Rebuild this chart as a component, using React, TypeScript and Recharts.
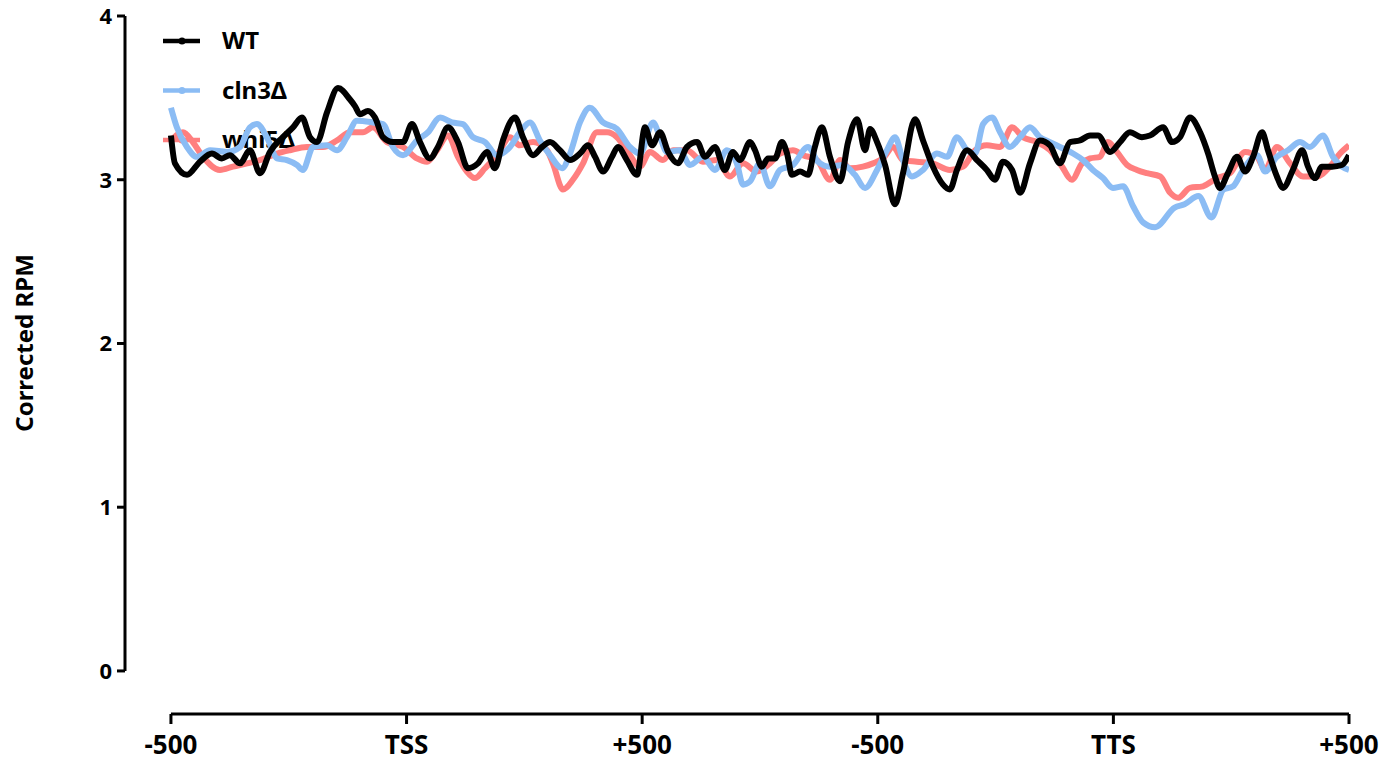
import { Label, Line, LineChart, ReferenceLine, XAxis, YAxis } from 'recharts';

// positions: 0 = -500, 100 = TSS, 200 = +500, 300 = -500, 400 = TTS, 500 = +500
const tickPositions = [0, 100, 200, 300, 400, 500];
const tickLabels = ['-500', 'TSS', '+500', '-500', 'TTS', '+500'];
const yTicks = [0, 1, 2, 3, 4];

const wt: [number, number][] = [
  [0, 3.27], [1.7, 3.1], [6.8, 3.03], [12.3, 3.11], [17.4, 3.16], [21.6, 3.13], [25, 3.15], [29.3, 3.1],
  [33.5, 3.18], [37.8, 3.04], [42, 3.17], [47.5, 3.26], [51.8, 3.32], [55.6, 3.38], [59, 3.26], [62, 3.23],
  [66.2, 3.41], [70.9, 3.56], [76, 3.49], [78.1, 3.45], [80.2, 3.4], [83.6, 3.42], [86.6, 3.38], [90, 3.26],
  [94.2, 3.23], [98.5, 3.23], [102.3, 3.34], [105.7, 3.23], [109.9, 3.13], [113.3, 3.2], [117.6, 3.32],
  [121.8, 3.23], [126.1, 3.07], [130.3, 3.1], [134.1, 3.17], [137.5, 3.07], [140.9, 3.24], [146, 3.38],
  [149.4, 3.26], [153.7, 3.15], [157.5, 3.2], [160.9, 3.23], [165.1, 3.18], [169.4, 3.12], [173.6, 3.16],
  [177, 3.21], [180, 3.14], [183.4, 3.05], [187.2, 3.14], [189.7, 3.2], [193.5, 3.12], [197.8, 3.03],
  [201.2, 3.32], [204.2, 3.21], [207.6, 3.29], [211, 3.17], [215.2, 3.1], [219, 3.2], [223.3, 3.23],
  [226.7, 3.14], [230.9, 3.2], [235.1, 3.06], [238.5, 3.17], [241.5, 3.12], [245.8, 3.23], [247.9, 3.18],
  [250.8, 3.08], [253.4, 3.13], [256.4, 3.13], [259.3, 3.23], [261.5, 3.16], [263.6, 3.03], [267, 3.05],
  [270.4, 3.03], [273.3, 3.2], [276.3, 3.32], [279.7, 3.14], [284, 2.99], [287.4, 3.23], [291.2, 3.37],
  [294.6, 3.18], [296.7, 3.31], [299.7, 3.23], [303.1, 3.09], [307.3, 2.85], [310.7, 3.04], [315.8, 3.37],
  [319.2, 3.24], [323.4, 3.08], [327.7, 2.97], [330.6, 2.94], [333.6, 3.06], [337.9, 3.18], [342.1, 3.12],
  [346.3, 3.06], [349.7, 3.0], [353.1, 3.11], [357, 3.06], [360.4, 2.92], [364.6, 3.1], [368.8, 3.24],
  [373.1, 3.21], [377.3, 3.1], [381.6, 3.23], [385.8, 3.24], [390.1, 3.27], [393.5, 3.27], [398.6, 3.17],
  [402.8, 3.23], [407, 3.29], [412.1, 3.26], [415.5, 3.27], [421.1, 3.32], [424.9, 3.23], [428.3, 3.26],
  [432.5, 3.38], [436.8, 3.29], [440.2, 3.16], [443.1, 3.02], [445.2, 2.95], [448.6, 3.04], [452.5, 3.14],
  [455.9, 3.05], [459.3, 3.14], [463.1, 3.29], [465.6, 3.18], [469.4, 3.02], [472, 2.95], [476.2, 3.06],
  [480.1, 3.18], [482.6, 3.08], [485.6, 3.01], [488.5, 3.08], [492.8, 3.08], [497, 3.09], [500, 3.15],
];

const cln3: [number, number][] = [
  [0, 3.44], [2.5, 3.32], [6.8, 3.2], [11, 3.14], [16.6, 3.18], [23.8, 3.17], [29.3, 3.2], [33.5, 3.32],
  [36.5, 3.34], [40.7, 3.26], [45, 3.13], [49.2, 3.12], [53.5, 3.09], [56, 3.06], [60.3, 3.2], [66.2, 3.21],
  [70.5, 3.18], [74.7, 3.26], [78.9, 3.36], [85.7, 3.35], [90, 3.34], [94.2, 3.2], [98.5, 3.15],
  [104.4, 3.24], [109.1, 3.29], [114.2, 3.38], [119.3, 3.35], [123.9, 3.34], [128.2, 3.26], [133.3, 3.23],
  [138.4, 3.15], [143.9, 3.2], [148.1, 3.29], [152.4, 3.35], [156.6, 3.24], [160.9, 3.15], [166, 3.07],
  [169.4, 3.16], [173.6, 3.35], [177.8, 3.44], [183.4, 3.35], [189.3, 3.31], [194.8, 3.2], [199.1, 3.16],
  [204.6, 3.35], [207.6, 3.26], [210.5, 3.17], [216, 3.18], [220.3, 3.09], [225.8, 3.14], [230.9, 3.06],
  [236, 3.18], [240.2, 3.1], [242.8, 2.97], [245.8, 2.99], [250, 3.1], [254.2, 2.96], [258.5, 3.06],
  [264, 3.09], [270.4, 3.2], [274.6, 3.11], [279.7, 3.08], [285.2, 3.09], [290.3, 3.03], [294.6, 2.95],
  [299.7, 3.06], [303.9, 3.18], [307.3, 3.26], [310.7, 3.12], [314.5, 3.02], [319.2, 3.06], [325.1, 3.16],
  [329.4, 3.14], [333.6, 3.26], [337.9, 3.18], [341.3, 3.16], [344.7, 3.34], [348.5, 3.38], [351.9, 3.29],
  [356.1, 3.2], [360.4, 3.26], [364.6, 3.32], [368.8, 3.26], [373.1, 3.23], [377.3, 3.2], [382.9, 3.16],
  [387.1, 3.12], [391.3, 3.06], [395.6, 3.01], [399.8, 2.95], [404.1, 2.96], [408.3, 2.84], [412.6, 2.74],
  [417.7, 2.71], [426, 2.83], [430.2, 2.85], [436.1, 2.9], [441.6, 2.77], [446.7, 2.94], [450.8, 2.96],
  [455, 3.06], [461, 3.15], [464.4, 3.05], [469.4, 3.14], [474.1, 3.18], [479.2, 3.23], [483.4, 3.2],
  [488.9, 3.27], [493.2, 3.14], [497, 3.08], [500, 3.06],
];

const whi5: [number, number][] = [
  [0, 3.24], [5.1, 3.29], [9.3, 3.23], [13.6, 3.14], [20.8, 3.06], [26.3, 3.08], [32.3, 3.1], [37.8, 3.12],
  [45, 3.16], [50.5, 3.18], [57.7, 3.2], [64.5, 3.2], [70.5, 3.24], [76, 3.29], [81.5, 3.29], [85.7, 3.32],
  [91.7, 3.23], [98.5, 3.2], [104.4, 3.13], [108.7, 3.11], [112.9, 3.18], [117.6, 3.27], [121.8, 3.14],
  [125.6, 3.05], [129, 3.01], [133.3, 3.07], [138.4, 3.15], [143.9, 3.26], [148.1, 3.21], [153.7, 3.23],
  [159.6, 3.18], [162.1, 3.1], [166.4, 2.94], [170.6, 3.0], [174.9, 3.1], [180.8, 3.29], [185.1, 3.29],
  [189.3, 3.26], [193.5, 3.18], [199.1, 3.08], [203.3, 3.17], [208.8, 3.12], [213.1, 3.18], [219, 3.18],
  [225.8, 3.11], [231.7, 3.12], [237.3, 3.02], [242.8, 3.1], [248.7, 3.05], [254.2, 3.1], [258.5, 3.16],
  [264, 3.18], [268.3, 3.15], [274.2, 3.12], [279.7, 3.0], [284, 3.12], [288.2, 3.07], [293.7, 3.08],
  [298, 3.1], [302.2, 3.13], [306.5, 3.2], [310.7, 3.12], [316.6, 3.11], [323.4, 3.1], [330.6, 3.06],
  [336.2, 3.08], [341.3, 3.18], [346.3, 3.21], [351.9, 3.2], [357, 3.32], [361.6, 3.26], [367.6, 3.23],
  [373.1, 3.18], [378.2, 3.08], [382.4, 3.0], [386.7, 3.1], [390.1, 3.13], [394.3, 3.14], [397.7, 3.23],
  [401.5, 3.17], [405.8, 3.09], [410, 3.06], [414.3, 3.04], [419.9, 3.02], [424.1, 2.92], [427.5, 2.89],
  [432.5, 2.95], [438, 2.96], [443.9, 3.01], [449.5, 3.04], [455.9, 3.17], [461, 3.14], [464.4, 3.06],
  [469.4, 3.2], [475, 3.1], [480.5, 3.02], [486.4, 3.02], [491.9, 3.08], [496.2, 3.16], [500, 3.21],
];

const BLACK = '#000000';
const BLUE = '#8bbcf4';
const RED = '#ff7f7f';
const FONT = '"Noto Sans", "Open Sans", sans-serif';

// the axes sit apart from the data, as in Prism
const X_MIN = -19.5;
const Y_MIN = -0.263;

const toRows = (pts: [number, number][]) => pts.map(([x, v]) => ({ x, v }));

const legendItems = [
  { name: 'WT', color: BLACK },
  { name: 'cln3Δ', color: BLUE },
  { name: 'whi5Δ', color: RED },
];

function YLabel({ viewBox }: any) {
  const x = 33;
  const y = (viewBox?.y ?? 16) + 327;
  return (
    <text
      x={x}
      y={y}
      transform={`rotate(-90 ${x} ${y})`}
      textAnchor="middle"
      fontFamily={FONT}
      fontWeight={700}
      fontSize={24}
      fill="#000"
    >
      Corrected RPM
    </text>
  );
}

export default function App() {
  return (
    <div style={{ position: 'absolute', left: 0, top: 0, width: 1383, height: 764, background: '#fff' }}>
      {/* legend sits underneath the traces */}
      <svg width={400} height={170} style={{ position: 'absolute', left: 0, top: 0, zIndex: 0 }}>
        {legendItems.map((it, i) => (
          <g key={it.name}>
            <line x1={163} x2={200} y1={41 + i * 49.5} y2={41 + i * 49.5} stroke={it.color} strokeWidth={4.5} />
            <circle cx={182} cy={41 + i * 49.5} r={3.5} fill={it.color} />
            <text x={222} y={49 + i * 49.5} fontFamily={FONT} fontWeight={700} fontSize={24} fill="#000">
              {it.name}
            </text>
          </g>
        ))}
      </svg>
      <div style={{ position: 'absolute', left: 0, top: 0, zIndex: 1 }}>
        <LineChart width={1383} height={764} margin={{ top: 16, right: 34, left: 0, bottom: 0 }}>
          <XAxis
            type="number"
            dataKey="x"
            domain={[X_MIN, 500]}
            allowDataOverflow
            ticks={tickPositions}
            tickFormatter={(v: number) => tickLabels[tickPositions.indexOf(v)] ?? ''}
            axisLine={false}
            tickSize={10}
            tickMargin={12}
            height={50}
            tickLine={{ stroke: '#000', strokeWidth: 3 }}
            tick={{ fill: '#000', fontFamily: FONT, fontWeight: 700, fontSize: 26 }}
          />
          <YAxis
            type="number"
            domain={[Y_MIN, 4]}
            allowDataOverflow
            ticks={yTicks}
            axisLine={false}
            width={125}
            tickSize={8}
            tickMargin={5}
            tickLine={{ stroke: '#000', strokeWidth: 3 }}
            tick={{ fill: '#000', fontFamily: FONT, fontWeight: 700, fontSize: 22 }}
          >
            <Label content={<YLabel />} />
          </YAxis>
          <ReferenceLine
            segment={[{ x: X_MIN, y: 0 }, { x: X_MIN, y: 4 }]}
            stroke="#000"
            strokeWidth={3}
            ifOverflow="visible"
          />
          <ReferenceLine
            segment={[{ x: 0, y: Y_MIN }, { x: 500, y: Y_MIN }]}
            stroke="#000"
            strokeWidth={3}
            ifOverflow="visible"
          />
          <Line
            data={toRows(whi5)}
            dataKey="v"
            type="monotone"
            stroke={RED}
            strokeWidth={6}
            dot={false}
            activeDot={false}
            isAnimationActive={false}
          />
          <Line
            data={toRows(cln3)}
            dataKey="v"
            type="monotone"
            stroke={BLUE}
            strokeWidth={6}
            dot={false}
            activeDot={false}
            isAnimationActive={false}
          />
          <Line
            data={toRows(wt)}
            dataKey="v"
            type="monotone"
            stroke={BLACK}
            strokeWidth={6}
            dot={false}
            activeDot={false}
            isAnimationActive={false}
          />
        </LineChart>
      </div>
    </div>
  );
}
